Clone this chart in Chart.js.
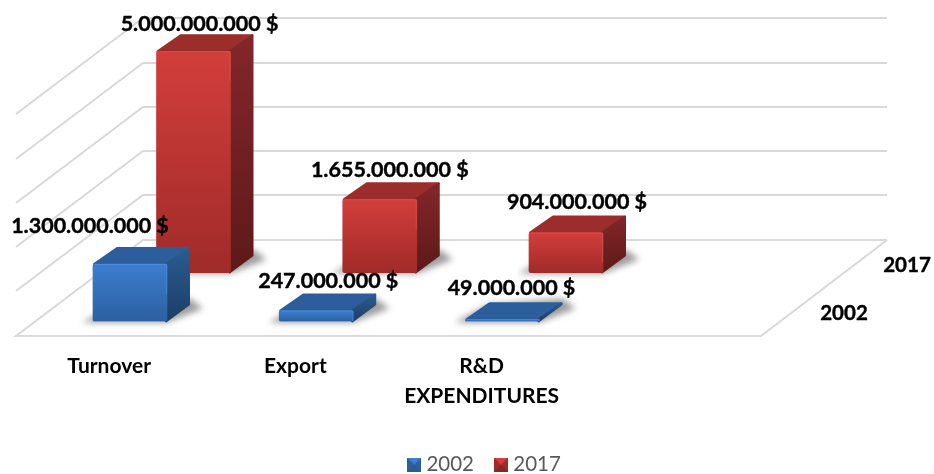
<!DOCTYPE html>
<html>
<head>
<meta charset="utf-8">
<title>Turnover, Export, R&amp;D</title>
<script src="https://cdn.jsdelivr.net/npm/chart.js@4"></script>
<style>
    html, body { margin: 0; padding: 0; background: #fff; }
    canvas { display: block; }
</style>
</head>
<body>
<canvas id="myChart" width="934" height="474"></canvas>
<script>
const categories = ['Turnover', 'Export', ['R&D', 'EXPENDITURES'], ''];
const positions = [0, 1, 2];
const values2002 = [1300000000, 247000000, 49000000];
const values2017 = [5000000000, 1655000000, 904000000];
const wallTicks = [0, 1000000000, 2000000000, 3000000000, 4000000000, 5000000000];

const FONT = 'Lato, "Liberation Sans", sans-serif';
const WALL_DX = 127, WALL_DY = 96;  // depth of the floor
const BAR_DX = 23, BAR_DY = 17;     // depth of one box

const reds = { light: '#d23e3b', dark: '#a02b29', top: '#9b2d2a', sideA: '#84262a', sideB: '#5d1a18', edge: '#e0605a' };
const blues = { light: '#3d7ecf', dark: '#2b609f', top: '#2b5e9a', sideA: '#2b5c92', sideB: '#1c3f66', edge: '#5f9ae0' };

// offsets of the value labels from the top of their box, per dataset then per bar
const labelOffsets = [
    [[-40, -38], [12, -30], [9, -31]],
    [[6, -27], [10, -29], [11, -31]]
];

function toPoints(values) {
    return values.map((v, i) => ({ x: positions[i], y: v }));
}

// 1300000000 -> 1.300.000.000 $
function moneyLabel(v) {
    return String(v).replace(/\B(?=(\d{3})+$)/g, '.') + ' $';
}

function faceGradient(palette) {
    return function (ctx) {
        const chart = ctx.chart;
        if (!chart.chartArea || !ctx.parsed) return palette.light;
        const scale = chart.scales[ctx.dataset.yAxisID];
        const g = chart.ctx.createLinearGradient(0, scale.getPixelForValue(ctx.parsed.y), 0, scale.getPixelForValue(0));
        g.addColorStop(0, palette.light);
        g.addColorStop(1, palette.dark);
        return g;
    };
}

// little bevelled square for the legend
function legendMarker(palette) {
    const c = document.createElement('canvas');
    c.width = 14;
    c.height = 14;
    const g = c.getContext('2d');
    g.fillStyle = palette.dark;
    g.fillRect(0, 0, 14, 14);
    g.fillStyle = palette.light;
    g.beginPath(); g.moveTo(0, 0); g.lineTo(14, 0); g.lineTo(7, 7); g.closePath(); g.fill();
    g.fillStyle = palette.sideA;
    g.beginPath(); g.moveTo(0, 14); g.lineTo(14, 14); g.lineTo(7, 7); g.closePath(); g.fill();
    return c;
}

function poly(ctx, pts) {
    ctx.beginPath();
    pts.forEach((p, i) => i ? ctx.lineTo(p[0], p[1]) : ctx.moveTo(p[0], p[1]));
    ctx.closePath();
}

// floor and walls, one line per tick of the wall scale
const wallsPlugin = {
    id: 'walls',
    beforeDatasetsDraw(chart) {
        const ctx = chart.ctx;
        const area = chart.chartArea;
        const wall = chart.scales.yWall;
        const backLeft = area.left + WALL_DX;
        const backRight = area.right + WALL_DX - 1;
        ctx.save();
        ctx.strokeStyle = '#d9d9d9';
        ctx.lineWidth = 2;
        wallTicks.forEach(tick => {
            const y = Math.round(wall.getPixelForValue(tick));
            ctx.beginPath();
            ctx.moveTo(backRight, y);
            ctx.lineTo(backLeft, y);
            ctx.lineTo(area.left, y + WALL_DY);
            if (tick === 0) {
                ctx.lineTo(area.right, y + WALL_DY);
                ctx.lineTo(backRight, y);
            }
            ctx.stroke();
        });
        ctx.restore();
    }
};

// shadow, top and side of each box; the front face is the bar itself
const boxPlugin = {
    id: 'boxes',
    beforeDatasetDraw(chart, args) {
        const palette = chart.data.datasets[args.index].palette;
        const ctx = chart.ctx;
        chart.getDatasetMeta(args.index).data.forEach(bar => {
            const l = bar.x - bar.width / 2, r = bar.x + bar.width / 2;
            const t = bar.y, b = bar.base;
            ctx.save();
            ctx.filter = 'blur(3px)';
            ctx.fillStyle = 'rgba(60,60,60,0.5)';
            poly(ctx, [[l - 11, b + 1], [r, b + 1], [r + BAR_DX + 13, b - BAR_DY + 4], [r + BAR_DX, b - BAR_DY - 6], [l + BAR_DX, b - BAR_DY]]);
            ctx.fill();
            ctx.restore();

            ctx.save();
            ctx.lineJoin = 'round';
            ctx.lineWidth = 2;
            ctx.fillStyle = ctx.strokeStyle = palette.top;
            poly(ctx, [[l + 1, t], [r - 1, t], [r + BAR_DX - 1, t - BAR_DY + 1], [l + BAR_DX + 1, t - BAR_DY + 1]]);
            ctx.fill();
            ctx.stroke();

            const side = ctx.createLinearGradient(0, t - BAR_DY, 0, b);
            side.addColorStop(0, palette.sideA);
            side.addColorStop(1, palette.sideB);
            ctx.fillStyle = ctx.strokeStyle = side;
            poly(ctx, [[r - 1, t], [r + BAR_DX - 1, t - BAR_DY + 1], [r + BAR_DX - 1, b - BAR_DY], [r - 1, b]]);
            ctx.fill();
            ctx.stroke();
            ctx.restore();
        });
    },
    afterDatasetDraw(chart, args) {
        const palette = chart.data.datasets[args.index].palette;
        const ctx = chart.ctx;
        chart.getDatasetMeta(args.index).data.forEach(bar => {
            const l = bar.x - bar.width / 2, r = bar.x + bar.width / 2;
            ctx.save();
            ctx.globalAlpha = 0.45;
            ctx.strokeStyle = palette.edge;
            ctx.beginPath();
            ctx.moveTo(l + 2, bar.y + 0.5);
            ctx.lineTo(r - 0.5, bar.y + 0.5);
            ctx.lineTo(r - 0.5, Math.min(bar.y + 30, bar.base));
            ctx.stroke();
            ctx.restore();
        });
    }
};

// value labels above the boxes and the year labels along the depth axis
const textPlugin = {
    id: 'texts',
    afterDatasetsDraw(chart) {
        const ctx = chart.ctx;
        const area = chart.chartArea;
        ctx.save();
        ctx.fillStyle = '#000';
        ctx.strokeStyle = '#000';
        ctx.lineWidth = 0.4;
        ctx.textAlign = 'center';
        ctx.textBaseline = 'middle';
        ctx.font = 'bold 21.5px ' + FONT;
        chart.data.datasets.forEach((ds, di) => {
            chart.getDatasetMeta(di).data.forEach((bar, i) => {
                const off = labelOffsets[di][i];
                const text = moneyLabel(ds.data[i].y);
                ctx.fillText(text, bar.x + off[0], bar.y + off[1]);
                ctx.strokeText(text, bar.x + off[0], bar.y + off[1]);
            });
        });
        ctx.font = 'bold 20.5px ' + FONT;
        ctx.fillText(chart.data.datasets[0].label, area.right + 83, 313);
        ctx.strokeText(chart.data.datasets[0].label, area.right + 83, 313);
        ctx.fillText(chart.data.datasets[1].label, area.right + 146, 265);
        ctx.strokeText(chart.data.datasets[1].label, area.right + 146, 265);
        ctx.restore();
    },
    afterLayout(chart) {
        chart.legend.left += 98;
        chart.legend.right += 98;
        chart.legend.top += 11;
        chart.legend.bottom += 11;
    }
};

let myChart = new Chart(document.getElementById('myChart').getContext('2d'), {
    type: 'bar',
    data: {
        labels: categories,
        datasets: [
            {
                label: '2002',
                data: toPoints(values2002),
                xAxisID: 'xFront',
                yAxisID: 'y',
                palette: blues,
                backgroundColor: faceGradient(blues),
                grouped: false,
                barThickness: 74,
                borderRadius: 2,
                borderSkipped: false
            },
            {
                label: '2017',
                data: toPoints(values2017),
                xAxisID: 'xBack',
                yAxisID: 'yBack',
                palette: reds,
                backgroundColor: faceGradient(reds),
                grouped: false,
                barThickness: 74,
                borderRadius: 2,
                borderSkipped: false
            }
        ]
    },
    options: {
        responsive: false,
        animation: false,
        events: [],
        layout: { padding: { left: 16, right: 173, top: 10, bottom: 0 } },
        scales: {
            x: {
                type: 'category',
                position: 'bottom',
                afterFit(scale) { scale.height = 97; },
                grid: { display: false },
                border: { display: false },
                ticks: {
                    padding: 22,
                    color: '#000',
                    autoSkip: false,
                    maxRotation: 0,
                    font: { family: FONT, size: 21, weight: 'bold', lineHeight: 1.43 }
                }
            },
            // the two rows sit on hidden scales that are slid along the depth of the floor
            xFront: { type: 'linear', display: false, offset: false, min: -0.612, max: 3.388 },
            xBack: { type: 'linear', display: false, offset: false, min: -0.953, max: 3.047 },
            y: { display: false, min: 0, max: 7040000000 },
            yBack: { display: false, min: -1106000000, max: 5934000000 },
            yWall: { display: false, min: -1851000000, max: 5189000000 }
        },
        plugins: {
            tooltip: { enabled: false },
            title: { display: false },
            legend: {
                position: 'bottom',
                labels: {
                    color: '#595959',
                    font: { family: FONT, size: 20.5 },
                    usePointStyle: true,
                    pointStyleWidth: 4,
                    padding: 25,
                    generateLabels(chart) {
                        return chart.data.datasets.map((ds, i) => ({
                            text: ds.label,
                            datasetIndex: i,
                            fontColor: '#595959',
                            pointStyle: legendMarker(ds.palette),
                            lineWidth: 0
                        }));
                    }
                }
            }
        }
    },
    plugins: [wallsPlugin, boxPlugin, textPlugin]
});
</script>
</body>
</html>
